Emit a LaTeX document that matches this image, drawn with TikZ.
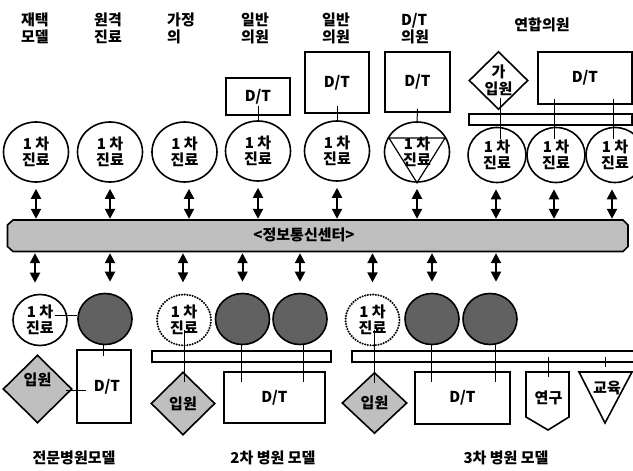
\documentclass[tikz,border=0pt]{standalone}
\usepackage{fontspec}
\setmainfont{Noto Sans CJK KR}
\usetikzlibrary{shapes.geometric,arrows.meta,calc}
\begin{document}
\begin{tikzpicture}[x=1pt,y=-1pt,
  font=\bfseries\fontsize{15}{16.5}\selectfont,
  every node/.style={inner sep=0pt},
  pc/.style={ellipse, draw, line width=1.6pt, minimum width=65pt, minimum height=60pt, align=center},
  pcs/.style={ellipse, draw, line width=1.6pt, minimum width=58pt, minimum height=55pt, align=center},
  bc/.style={ellipse, draw, line width=1.6pt, minimum width=54pt, minimum height=51pt, align=center},
  hc/.style={bc, fill=black!62},
  dc/.style={bc, line width=2.3pt, dash pattern=on 0pt off 2.7pt, line cap=round},
  box/.style={rectangle, draw, line width=1.6pt},
  dia/.style={diamond, draw, line width=1.6pt, align=center},
  gdia/.style={dia, fill=black!25},
  bar/.style={rectangle, draw, line width=1.6pt},
  dar/.style={{Triangle[width=10pt,length=10pt]}-{Triangle[width=10pt,length=10pt]}, line width=2pt},
  cn/.style={line width=1pt},
  lbl/.style={align=left, anchor=west}
]
\useasboundingbox (0,0) rectangle (633,471);

% ---------- top labels ----------
\node[lbl] (t1) at (21,28.5) {재택\\모델};
\node[lbl] (t2) at (94,28.5) {원격\\진료};
\node[lbl] (t3) at (167,28.5) {가정\\의};
\node[lbl] (t4) at (241,28.5) {일반\\의원};
\node[lbl] (t5) at (322,28.5) {일반\\의원};
\node[lbl] (t6) at (401,28.5) {D/T\\의원};
\node (t7) at (542,25) {연합의원};

% ---------- top row ----------
\node[pc] (c1) at (36,152) {1 차\\진료};
\node[pc] (c2) at (110,152) {1 차\\진료};
\node[pc] (c3) at (184.5,152) {1 차\\진료};
\node[pc] (c4) at (258,151) {1 차\\진료};
\node[pc] (c5) at (337,151) {1 차\\진료};
\node[pc] (c6) at (417,152) {1 차\\진료};
\node[pcs] (c7) at (497,155) {1 차\\진료};
\node[pcs] (c8) at (556,155) {1 차\\진료};
\node[pcs] (c9) at (615,155) {1 차\\진료};

\draw[line width=1.2pt] ($(c6.center)+(-28,-14)$) -- ($(c6.center)+(28,-14)$) -- (c6.south) -- cycle;

\node[box, minimum width=64pt, minimum height=37pt] (b4) at (258,96.5) {D/T};
\node[box, minimum width=64pt, minimum height=61pt] (b5) at (337,82.5) {D/T};
\node[box, minimum width=65pt, minimum height=60pt] (b6) at (417.5,82) {D/T};
\node[dia, minimum width=59pt, minimum height=57pt] (d7) at (498.5,80.5) {가\\입원};
\node[box, minimum width=94pt, minimum height=52pt] (b8) at (585,78) {D/T};
\node[bar, minimum width=163pt, minimum height=11pt] (bar7) at (550.5,119.5) {};

\draw[cn] ([yshift=10pt]b4.south) -- ([yshift=-2pt]c4.north);
\draw[cn] ([yshift=8pt]b5.south) -- ([yshift=-2pt]c5.north);
\draw[cn] ([yshift=4pt]b6.south) -- ([yshift=-2pt]c6.north);
\draw[cn] ($(d7.south)+(1.5,-12)$) -- ($(c7.north)+(3,12)$);
\draw[cn] ($(b8.south -| c8.north)+(-2,-6)$) -- ($(c8.north)+(-2,12)$);
\draw[cn] ($(b8.south -| c9.north)+(-2,-6)$) -- ($(c9.north)+(-2,12)$);

% ---------- band ----------
\draw[line width=1.6pt, fill=black!25] (13,220) -- (623,220) -- (628,225) -- (628,246.5)
  -- (623,251.5) -- (13,251.5) -- (7.5,246.5) -- (7.5,225) -- cycle;
\node[minimum width=620.5pt, minimum height=31.5pt] (band) at (317.75,235.75) {};
\node (bandtxt) at (304,235) {<정보통신센터>};

% top arrows
\draw[dar, shorten >=1pt] ([yshift=-6pt]c1.south) -- (c1.south |- band.north);
\draw[dar, shorten >=1pt] ([yshift=-6pt]c2.south) -- (c2.south |- band.north);
\draw[dar, shorten >=1pt] ($(c3.south)+(4.5,6)$) -- ($(c3.south |- band.north)+(4.5,0)$);
\draw[dar, shorten >=1pt] ([yshift=-6pt]c4.south) -- (c4.south |- band.north);
\draw[dar, shorten >=1pt] ([yshift=-6pt]c5.south) -- (c5.south |- band.north);
\draw[dar, shorten >=1pt] ([yshift=-6pt]c6.south) -- (c6.south |- band.north);
\draw[dar, shorten >=1pt] ($(c7.south)+(-1,6)$) -- ($(c7.south |- band.north)+(-1,0)$);
\draw[dar, shorten >=1pt] ($(c8.south)+(-2,6)$) -- ($(c8.south |- band.north)+(-2,0)$);
\draw[dar, shorten >=1pt] ($(c9.south)+(-3,6)$) -- ($(c9.south |- band.north)+(-3,0)$);

% ---------- bottom row ----------
\node[bc] (e1) at (40,320) {1 차\\진료};
\node[hc] (e2) at (105,319) {};
\node[dc] (e3) at (184,320) {1 차\\진료};
\node[hc] (e4) at (242.5,319) {};
\node[hc] (e5) at (300,319) {};
\node[dc] (e6) at (372.5,320) {1 차\\진료};
\node[hc] (e7) at (432,319) {};
\node[hc] (e8) at (490,319) {};

% bottom arrows
\draw[dar, shorten <=1.5pt] ($(e1.north |- band.south)+(-5,0)$) -- ($(e1.north)+(-5,-11)$);
\draw[dar, shorten <=1.5pt] ($(e2.north |- band.south)+(5,0)$) -- ($(e2.north)+(5,-11)$);
\draw[dar, shorten <=1.5pt] ($(e3.north |- band.south)+(-1,0)$) -- ($(e3.north)+(-1,-11)$);
\draw[dar, shorten <=1.5pt] (e4.north |- band.south) -- ($(e4.north)+(0,-11)$);
\draw[dar, shorten <=1.5pt] (e5.north |- band.south) -- ($(e5.north)+(0,-11)$);
\draw[dar, shorten <=1.5pt] (e6.north |- band.south) -- ($(e6.north)+(0,-11)$);
\draw[dar, shorten <=1.5pt] (e7.north |- band.south) -- ($(e7.north)+(0,-11)$);
\draw[dar, shorten <=1.5pt] ($(e8.north |- band.south)+(6,0)$) -- ($(e8.north)+(6,-11)$);

% group 1
\node[box, minimum width=54pt, minimum height=73pt] (bx1) at (104,386.5) {\hspace*{6pt}D/T};
\node[gdia, minimum width=69pt, minimum height=68pt] (dm1) at (37.5,389) {입원\\[4pt]};
\coordinate (l1) at ($(e1.center)+(15,-5)$);
\draw[cn] (l1) -- (l1 -| e2.west);
\draw[cn] ($(e2.south)+(-2,0)$) -- ($(e2.south |- bx1.north)+(-2,7)$);
\coordinate (l2) at ($(dm1.center)+(28,1)$);
\draw[cn] (l2) -- ($(l2 -| bx1.west)+(10,0)$);

% group 2
\node[bar, minimum width=179pt, minimum height=11pt] (bar2) at (241.5,356.5) {};
\node[gdia, minimum width=64pt, minimum height=63pt] (dm2) at (183,403.5) {입원};
\node[box, minimum width=101pt, minimum height=51pt] (bx2) at (274.5,397.5) {D/T};
\draw[cn] ($(e3.center)+(0,10)$) -- ($(e3.center |- dm2.north)+(0,11)$);
\draw[cn] ($(e4.south)+(-1.5,0)$) -- ($(e4.south |- bx2.north)+(-1.5,11)$);
\draw[cn] ($(e5.south)+(3,0)$) -- ($(e5.south |- bx2.north)+(3,11)$);

% group 3
\node[bar, minimum width=300pt, minimum height=11pt] (bar3) at (502,356.5) {};
\node[gdia, minimum width=65pt, minimum height=61pt] (dm3) at (374.5,403) {입원};
\node[box, minimum width=95pt, minimum height=52pt] (bx3) at (462.5,398) {D/T};
\draw[cn] ($(e6.center)+(2,10)$) -- ($(e6.center |- dm3.north)+(2,11)$);
\draw[cn] ($(e7.south)+(-1,0)$) -- ($(e7.south |- bx3.north)+(-1,11)$);
\draw[cn] ($(e8.south)+(5,0)$) -- ($(e8.south |- bx3.north)+(5,11)$);

\draw[line width=1.6pt] (526,372) -- (569,372) -- (569,417) -- (548,430) -- (526,417) -- cycle;
\node (yg) at (548.5,398) {연구};
\draw[cn] ($(yg.center |- bar3.center)+(-0.5,0)$) -- ($(yg.center)+(-0.5,-21)$);

\draw[line width=1.6pt] (579,372) -- (632,372) -- (605,423) -- cycle;
\node (ed) at (607,388) {교육};
\draw[cn] ($(ed.center |- bar3.center)+(-2,0)$) -- ($(ed.center)+(-2,-21)$);

% ---------- bottom labels ----------
\node (m1) at (74,458) {전문병원모델};
\node (m2) at (273,458) {2차 병원 모델};
\node (m3) at (506,458) {3차 병원 모델};
\end{tikzpicture}
\end{document}
